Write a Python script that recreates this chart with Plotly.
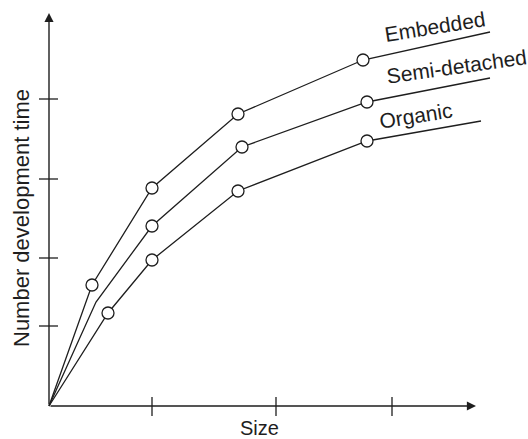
import plotly.graph_objects as go

# values (arbitrary units, origin at the axes' corner)
embedded_size = [0, 0.43, 1.03, 1.89, 3.14, 4.41]
embedded_time = [0, 1.21, 2.18, 2.92, 3.46, 3.74]
semi_size = [0, 0.47, 1.03, 1.93, 3.18, 4.41]
semi_time = [0, 1.04, 1.80, 2.59, 3.04, 3.28]
organic_size = [0, 0.59, 1.03, 1.89, 3.18, 4.32]
organic_time = [0, 0.93, 1.46, 2.15, 2.65, 2.85]

# which points carry a circle marker
embedded_marks = [1, 2, 3, 4]
semi_marks = [2, 3, 4]
organic_marks = [1, 2, 3, 4]

x_ticks = [1.03, 2.27, 3.43]
y_ticks = [0.80, 1.48, 2.27, 3.07]
x_axis_end = 4.27
y_axis_end = 3.93

ink = "#1e1e1e"
font = "Liberation Sans, Arial, sans-serif"

fig = go.Figure()

for xs, ys, marks in [(embedded_size, embedded_time, embedded_marks),
                      (semi_size, semi_time, semi_marks),
                      (organic_size, organic_time, organic_marks)]:
    fig.add_trace(go.Scatter(x=xs, y=ys, mode="lines",
                             line=dict(color=ink, width=1.3)))
    fig.add_trace(go.Scatter(x=[xs[i] for i in marks], y=[ys[i] for i in marks],
                             mode="markers",
                             marker=dict(symbol="circle", size=12, color="white",
                                         line=dict(color=ink, width=1.3))))

# tick marks crossing the axes
tx, ty = [], []
for t in x_ticks:
    tx += [t, t, None]
    ty += [-0.10, 0.09, None]
for t in y_ticks:
    tx += [-0.10, 0.09, None]
    ty += [t, t, None]
fig.add_trace(go.Scatter(x=tx, y=ty, mode="lines",
                         line=dict(color=ink, width=1.3)))

# axes with arrow heads
fig.add_annotation(x=x_axis_end, y=0, ax=0, ay=0, xref="x", yref="y",
                   axref="x", ayref="y", showarrow=True, arrowhead=2,
                   arrowsize=1.3, arrowwidth=1.4, arrowcolor=ink, text="")
fig.add_annotation(x=0, y=y_axis_end, ax=0, ay=0, xref="x", yref="y",
                   axref="x", ayref="y", showarrow=True, arrowhead=2,
                   arrowsize=1.3, arrowwidth=1.4, arrowcolor=ink, text="")

labels = [("Embedded", 3.86, 3.80, -9),
          ("Semi-detached", 4.07, 3.40, -8),
          ("Organic", 3.67, 2.91, -9)]
for text, x, y, ang in labels:
    fig.add_annotation(x=x, y=y, xref="x", yref="y", text=text, showarrow=False,
                       textangle=ang, font=dict(family=font, size=21, color=ink))

fig.add_annotation(x=2.10, y=-0.22, xref="x", yref="y", text="Size",
                   showarrow=False, font=dict(family=font, size=20, color=ink))
fig.add_annotation(x=-0.28, y=1.88, xref="x", yref="y",
                   text="Number development time", showarrow=False,
                   textangle=-90, font=dict(family=font, size=22, color=ink))

fig.update_xaxes(range=[-0.49, 4.79], visible=False)
fig.update_yaxes(range=[-0.33, 4.06], visible=False)
fig.update_layout(width=528, height=439, autosize=False, showlegend=False,
                  margin=dict(l=0, r=0, t=0, b=0),
                  plot_bgcolor="white", paper_bgcolor="white")

fig.write_html("out.html", config={"displayModeBar": False},
               post_script="document.body.style.margin='0';"
                           "document.body.style.overflow='hidden';")
